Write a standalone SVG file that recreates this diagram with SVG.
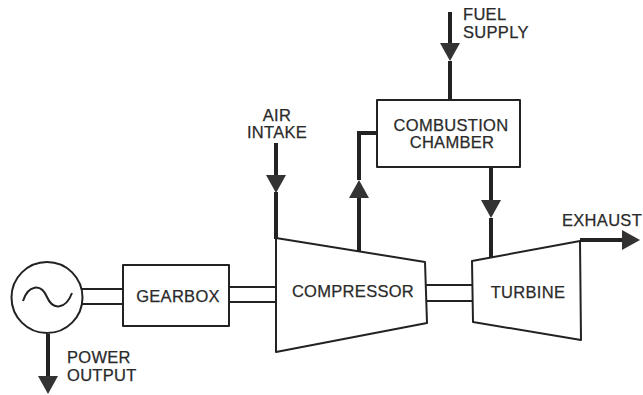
<svg xmlns="http://www.w3.org/2000/svg" width="643" height="395" viewBox="0 0 643 395">
<style>
.o{fill:#fff;stroke:#222;stroke-width:2;stroke-linejoin:round}
.s{fill:none;stroke:#222;stroke-width:2}
.f{fill:none;stroke:#222;stroke-width:4}
.a{fill:none;stroke:#222;stroke-width:4;marker-end:url(#ah)}
text{font-family:"Liberation Sans",Arial,sans-serif;font-size:16.5px;fill:#2a2a2a;stroke:#2a2a2a;stroke-width:0.25px;letter-spacing:0.3px}
.m{text-anchor:middle}
</style>
<defs>
<marker id="ah" markerUnits="userSpaceOnUse" markerWidth="18" markerHeight="20" refX="0" refY="10" orient="auto" viewBox="0 0 18 20">
<path d="M0,0 L18,10 L0,20 z" fill="#333"/>
</marker>
</defs>
<rect width="643" height="395" fill="#fff"/>
<g id="connectors">
<line class="s" x1="82" y1="289" x2="123" y2="289"/>
<line class="s" x1="82" y1="304" x2="123" y2="304"/>
<line class="s" x1="229" y1="287" x2="277" y2="287"/>
<line class="s" x1="229" y1="302" x2="277" y2="302"/>
<line class="s" x1="426" y1="285" x2="472" y2="285"/>
<line class="s" x1="426" y1="301" x2="472" y2="301"/>
<line class="a" x1="48" y1="334" x2="48" y2="376"/>
<line class="a" x1="276" y1="143" x2="276" y2="175"/>
<line class="f" x1="276" y1="192" x2="276" y2="239"/>
<line class="a" x1="450" y1="12" x2="450" y2="43"/>
<line class="f" x1="450" y1="61" x2="450" y2="100"/>
<line class="a" x1="491" y1="167" x2="491" y2="200"/>
<line class="f" x1="491" y1="218" x2="491" y2="258"/>
<line class="a" x1="359" y1="251" x2="359" y2="198"/>
<polyline class="f" points="359,180 359,133 377,133"/>
<line class="a" x1="580" y1="240" x2="622" y2="240"/>
</g>
<g id="generator">
<circle class="o" cx="47" cy="297.5" r="35.5"/>
<path class="s" d="M23,301 C28,285 41,283 47,297 C53,311 66,309 72,293"/>
</g>
<g id="gearbox">
<rect class="o" x="123" y="265" width="106" height="61"/>
<text class="m" x="178" y="302">GEARBOX</text>
</g>
<g id="compressor">
<polygon class="o" points="276,238 425,262 427,323 276,352"/>
<text class="m" x="353" y="297">COMPRESSOR</text>
</g>
<g id="turbine">
<polygon class="o" points="472,261 580,241 581,340 473,322"/>
<text class="m" x="528" y="298">TURBINE</text>
</g>
<g id="combustion-chamber">
<rect class="o" x="377" y="100" width="143" height="67"/>
<text class="m" x="451" y="131">COMBUSTION</text>
<text class="m" x="452" y="148">CHAMBER</text>
</g>
<g id="labels">
<text class="m" x="277" y="121">AIR</text>
<text class="m" x="277" y="138">INTAKE</text>
<text x="463" y="20">FUEL</text>
<text x="463" y="38">SUPPLY</text>
<text x="562" y="226">EXHAUST</text>
<text x="67" y="363">POWER</text>
<text x="67" y="381">OUTPUT</text>
</g>
</svg>
